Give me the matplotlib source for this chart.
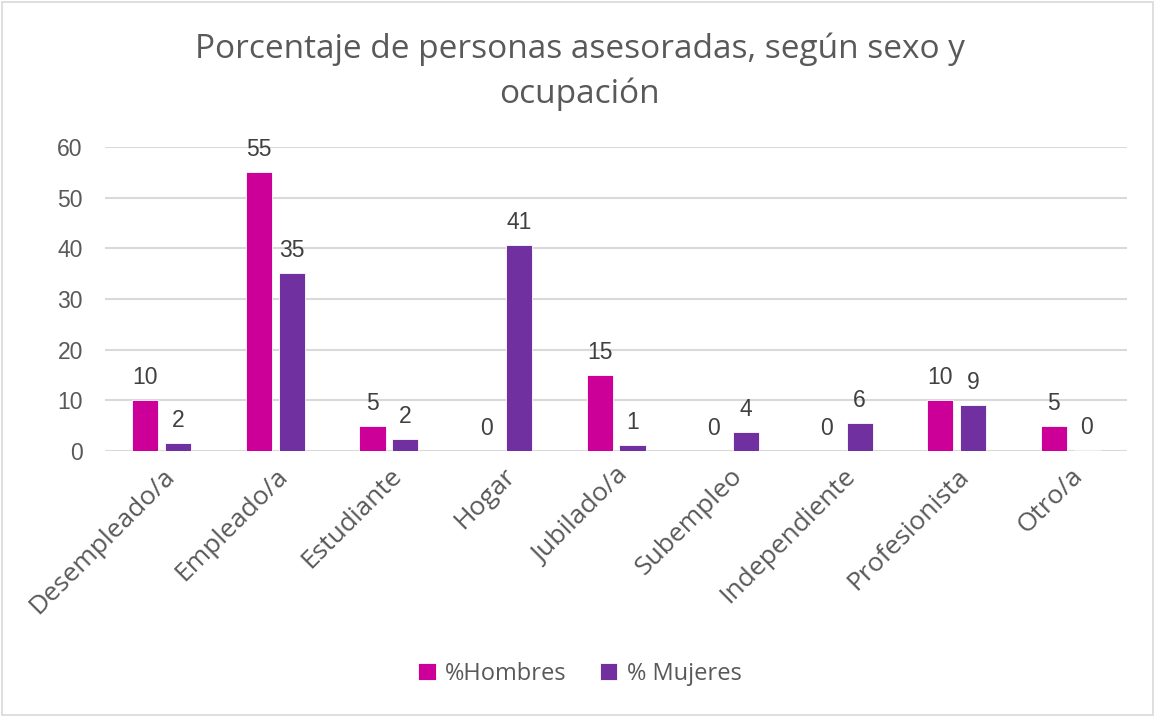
import matplotlib.pyplot as plt
import numpy as np
from matplotlib.patches import Rectangle

# Datos
categorias = ['Desempleado/a', 'Empleado/a', 'Estudiante', 'Hogar', 'Jubilado/a',
              'Subempleo', 'Independiente', 'Profesionista', 'Otro/a']
hombres = [10, 55, 5, 0, 15, 0, 0, 10, 5]
mujeres = [1.6, 35.1, 2.4, 40.6, 1.2, 3.8, 5.6, 9.0, 0.2]

col_h = '#CC0099'
col_m = '#7030A0'
gris = '#595959'

plt.rcParams['font.family'] = ['Open Sans', 'DejaVu Sans']

fig = plt.figure(figsize=(11.55, 7.17), dpi=100)
ax = fig.add_axes([0.0909, 0.371, 0.885, 0.424])

x = np.arange(len(categorias))
w = 0.23
b1 = ax.bar(x - 0.145, hombres, w, color=col_h, edgecolor='white', linewidth=0.6, label='%Hombres')
b2 = ax.bar(x + 0.145, mujeres, w, color=col_m, edgecolor='white', linewidth=0.6, label='% Mujeres')

for bars in (b1, b2):
    ax.bar_label(bars, fmt='%.0f', padding=8, fontsize=16.5, color='#404040',
                 family=['Liberation Sans'])

ax.set_xlim(-0.5, len(categorias) - 0.5)
ax.set_ylim(0, 60)
ax.set_yticks(range(0, 61, 10))
ax.yaxis.grid(True, color='#D9D9D9', linewidth=1.5)
ax.set_axisbelow(True)
for s in ax.spines.values():
    s.set_visible(False)
ax.tick_params(axis='y', length=0, pad=16, labelsize=16.5, labelcolor=gris)
ax.tick_params(axis='x', length=0, pad=9)
for lab in ax.get_yticklabels():
    lab.set_family(['Liberation Sans'])

ax.set_xticks(x)
ax.set_xticklabels(categorias, rotation=45, ha='right', rotation_mode='anchor',
                   fontsize=19, color=gris)

fig.text(0.502, 0.9, 'Porcentaje de personas asesoradas, según sexo y\nocupación',
         ha='center', va='center', fontsize=24, color=gris, linespacing=1.42)

fig.legend(loc='center', bbox_to_anchor=(0.502, 0.06), ncol=2, frameon=False,
           fontsize=17, labelcolor=gris, handlelength=0.75, handleheight=0.75,
           handletextpad=0.4, columnspacing=1.4)

fig.patches.append(Rectangle((0.002, 0.003), 0.996, 0.994, transform=fig.transFigure,
                             fill=False, edgecolor='#D9D9D9', linewidth=1.2))

fig.savefig('out.png', dpi=100)
